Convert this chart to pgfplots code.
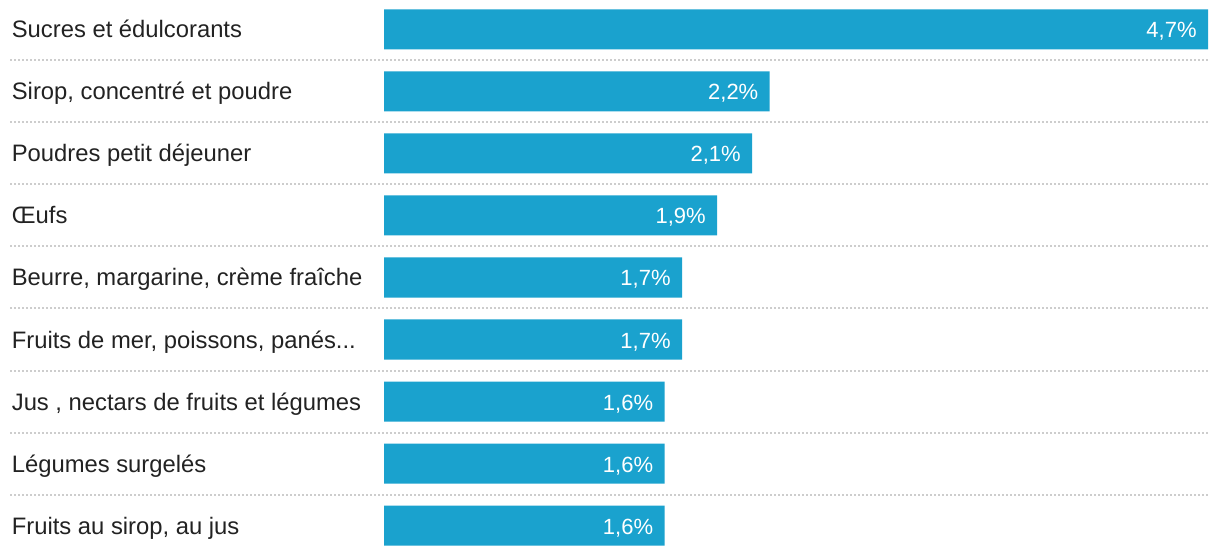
\documentclass[border=0pt]{standalone}
\usepackage{fontspec}
\setmainfont{Liberation Sans}
\usepackage{pgfplots}
\pgfplotsset{compat=1.18}
\definecolor{barBlue}{RGB}{26,162,206}
\definecolor{labelGray}{RGB}{34,34,34}
\definecolor{sepGray}{RGB}{205,205,205}
\begin{document}
\begin{tikzpicture}
% 1 px of the reference = 0.5pt
\path[use as bounding box] (0,0) rectangle (610pt,278pt);
\begin{axis}[
    at={(192pt,0pt)}, anchor=south west,
    scale only axis,
    width=412pt, height=278pt,
    xbar, bar width=20pt,
    xmin=0, xmax=4.7,
    ymin=-0.476, ymax=8.492,
    y dir=reverse,
    axis line style={draw=none},
    tick style={draw=none},
    xtick=\empty,
    ytick={0,...,8},
    yticklabels={
        Sucres et édulcorants,
        {Sirop, concentré et poudre},
        Poudres petit déjeuner,
        Œufs,
        {Beurre, margarine, crème fraîche},
        {Fruits de mer, poissons, panés{.}{.}{.}},
        {Jus , nectars de fruits et légumes},
        Légumes surgelés,
        {Fruits au sirop, au jus},
    },
    yticklabel style={anchor=base west, xshift=-182pt, yshift=-4.25pt, inner sep=0pt,
        text=labelGray, font=\fontsize{11.9pt}{14pt}\selectfont},
    nodes near coords={\pgfmathprintnumber[fixed,fixed zerofill,precision=1,use comma,assume math mode=true]{\pgfplotspointmeta}\%},
    nodes near coords style={anchor=base east, inner sep=0pt, xshift=-5.5pt, yshift=-4.25pt,
        text=white, font=\fontsize{11pt}{13pt}\selectfont},
    clip=false,
]
\addplot[fill=barBlue, draw=none] coordinates {
    (4.7,0) (2.2,1) (2.1,2) (1.9,3) (1.7,4) (1.7,5) (1.6,6) (1.6,7) (1.6,8)
};
\pgfplotsinvokeforeach{0,...,7}{
    \draw[sepGray, line width=1pt, dash pattern=on 1pt off 1pt]
        (axis cs:-2.133,#1+0.5) -- (axis cs:4.7,#1+0.5);
}
\end{axis}
\end{tikzpicture}
\end{document}
